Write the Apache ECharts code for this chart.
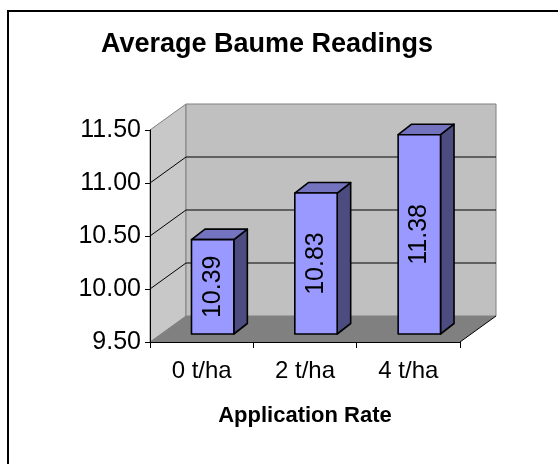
<!DOCTYPE html>
<html>
<head>
<meta charset="utf-8">
<script src="https://cdn.jsdelivr.net/npm/echarts@6/dist/echarts.min.js"></script>
<style>html,body{margin:0;padding:0;background:#fff;overflow:hidden;}#c{width:558px;height:464px;}</style>
</head>
<body>
<div id="c"></div>
<script>
const categories = ['0 t/ha', '2 t/ha', '4 t/ha'];
const values = [10.39, 10.83, 11.38];
const yMin = 9.5, yMax = 11.5, yStep = 0.5;
const yTicks = [9.5, 10.0, 10.5, 11.0, 11.5];
const titleText = 'Average Baume Readings';
const xAxisTitle = 'Application Rate';

const FONT = '"Liberation Sans", Arial, sans-serif';
const DX = 36, DY = -26;          // depth of the 3D box
const BFX = 11, BFY = -8;         // bar front face offset into depth
const BDX = 13.5, BDY = -10.5;    // bar depth
const BAR_RATIO = 0.41;

const chart = echarts.init(document.getElementById('c'), null, {renderer: 'canvas'});

function renderWalls(params, api) {
  const cs = params.coordSys;
  const x0 = cs.x, x1 = cs.x + cs.width, yT = cs.y, yB = cs.y + cs.height;
  return {
    type: 'group',
    children: [
      { type: 'polygon', z2: 1, shape: { points: [[x0, yB], [x0 + DX, yB + DY], [x0 + DX, yT + DY], [x0, yT]] },
        style: { fill: '#c8c8c8', stroke: '#808080', lineWidth: 1 } },
      { type: 'rect', z2: 1, shape: { x: x0 + DX, y: yT + DY, width: cs.width, height: cs.height },
        style: { fill: '#c0c0c0', stroke: '#808080', lineWidth: 1 } },
      { type: 'polygon', z2: 2, shape: { points: [[x0, yB], [x1, yB], [x1 + DX, yB + DY], [x0 + DX, yB + DY]] },
        style: { fill: '#808080', stroke: null } },
      { type: 'line', z2: 3, shape: { x1: x1, y1: yB, x2: x1 + DX, y2: yB + DY },
        style: { stroke: '#000', lineWidth: 1 } }
    ]
  };
}

function renderGrid(params, api) {
  const v = api.value(1);
  if (v <= yMin || v >= yMax) return null;
  const cs = params.coordSys;
  const y = api.coord([0, v])[1];
  const x0 = cs.x, x1 = cs.x + cs.width;
  return {
    type: 'group',
    children: [
      { type: 'line', z2: 10, shape: { x1: x0, y1: y, x2: x0 + DX, y2: y + DY }, style: { stroke: '#000', lineWidth: 1 } },
      { type: 'line', z2: 10, shape: { x1: x0 + DX, y1: y + DY, x2: x1 + DX, y2: y + DY }, style: { stroke: '#000', lineWidth: 1 } }
    ]
  };
}

function renderBar(params, api) {
  const idx = api.value(0), v = api.value(1);
  const top = api.coord([idx, v]);
  const base = api.coord([idx, yMin]);
  const w = api.size([1, 0])[0] * BAR_RATIO;
  const xa = top[0] + BFX - w / 2, xb = top[0] + BFX + w / 2;
  const yt = top[1] + BFY, yb = base[1] + BFY;
  const st = { stroke: '#000', lineWidth: 1.6, lineJoin: 'round' };
  return {
    type: 'group',
    children: [
      { type: 'polygon', shape: { points: [[xb, yt], [xb + BDX, yt + BDY], [xb + BDX, yb + BDY], [xb, yb]] },
        style: Object.assign({ fill: '#4c4c80' }, st) },
      { type: 'polygon', shape: { points: [[xa, yt], [xa + BDX, yt + BDY], [xb + BDX, yt + BDY], [xb, yt]] },
        style: Object.assign({ fill: '#7373c0' }, st) },
      { type: 'rect', shape: { x: xa, y: yt, width: w, height: yb - yt },
        style: Object.assign({ fill: '#9999ff' }, st) },
      { type: 'text', x: (xa + xb) / 2, y: (yt + yb) / 2, rotation: Math.PI / 2,
        style: { text: v.toFixed(2), fill: '#000', font: '25px ' + FONT, align: 'center', verticalAlign: 'middle' } }
    ]
  };
}

chart.setOption({
  animation: false,
  backgroundColor: '#fff',
  graphic: [
    { type: 'line', z: -10, shape: { x1: 8, y1: 11, x2: 8, y2: 470 }, style: { stroke: '#000', lineWidth: 2 } },
    { type: 'line', z: -10, shape: { x1: 7, y1: 11, x2: 565, y2: 11 }, style: { stroke: '#000', lineWidth: 2 } },
    { type: 'text', x: 267, y: 45,
      style: { text: titleText, fill: '#000', font: 'bold 27px ' + FONT, align: 'center', verticalAlign: 'middle' } }
  ],
  grid: { left: 150, right: 98, top: 130, bottom: 122, containLabel: false },
  xAxis: {
    type: 'category',
    data: categories,
    boundaryGap: true,
    axisLine: { show: true, lineStyle: { color: '#000', width: 1 } },
    axisTick: { show: true, length: 6, lineStyle: { color: '#000' } },
    axisLabel: { interval: 0, margin: 17, color: '#000', fontSize: 24, fontFamily: FONT },
    splitLine: { show: false },
    name: xAxisTitle,
    nameLocation: 'middle',
    nameGap: 63,
    nameTextStyle: { color: '#000', fontSize: 22, fontWeight: 'bold', fontFamily: FONT }
  },
  yAxis: {
    type: 'value',
    min: yMin, max: yMax, interval: yStep,
    axisLine: { show: true, lineStyle: { color: '#000', width: 1 } },
    axisTick: { show: true, length: 5, lineStyle: { color: '#000' } },
    axisLabel: { margin: 9, color: '#000', fontSize: 25, fontFamily: FONT,
      formatter: v => v.toFixed(2) },
    splitLine: { show: false }
  },
  series: [
    { type: 'custom', name: 'walls', z: -1, silent: true, renderItem: renderWalls, data: [[0, yMin]] },
    { type: 'custom', name: 'grid', z: -1, silent: true, renderItem: renderGrid, data: yTicks.map(t => [0, t]) },
    { type: 'custom', name: 'Average Baume', z: 2, renderItem: renderBar,
      data: values.map((v, i) => [i, v]) }
  ]
});
</script>
</body>
</html>
